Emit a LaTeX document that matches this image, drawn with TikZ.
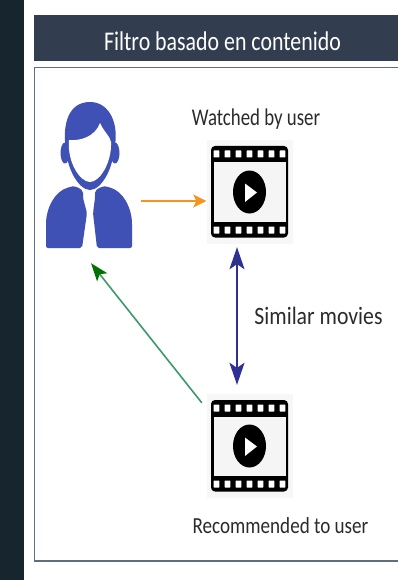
\documentclass[tikz,border=0pt]{standalone}
\usepackage{fontspec}
\setmainfont{Carlito}
\usetikzlibrary{arrows.meta}
\definecolor{sidebar}{HTML}{17252F}
\definecolor{headbg}{HTML}{323E4F}
\definecolor{framec}{HTML}{5F6F7F}
\definecolor{personc}{HTML}{3F51B5}
\definecolor{orangec}{HTML}{F7941D}
\definecolor{bluec}{HTML}{2E3192}
\definecolor{greenc}{HTML}{3C9A6A}
\definecolor{textc}{HTML}{2B2B2B}
\tikzset{
 film/.style={minimum width=86pt,minimum height=104pt,inner sep=0pt,fill=black!3},
 lbl/.style={text=textc,inner sep=0pt},
}
\newcommand{\filmicon}[2]{%
 \begin{scope}[shift={(#1,#2)}]
  \fill[black,rounded corners=4pt] (-38.5,-46) rectangle (38.5,45.5);
  \fill[black!4] (-36,-29.5) rectangle (36,29.5);
  \foreach \i in {-3,...,3}{
   \fill[white,rounded corners=.6pt] ({\i*11-2.9},-41.5) rectangle ({\i*11+2.9},-34.5);
   \fill[white,rounded corners=.6pt] ({\i*11-2.9},34.5) rectangle ({\i*11+2.9},41.5);
  }
  \fill[black] (0,0) ellipse (16.5pt and 21.5pt);
  \fill[white] (-4.5,-8.5) -- (7.5,0.5) -- (-4.5,10) -- cycle;
 \end{scope}}
\begin{document}
\begin{tikzpicture}[x=1pt,y=-1pt]
\useasboundingbox (0,0) rectangle (398,580);
\fill[white] (0,0) rectangle (398,580);
\fill[sidebar] (0,0) rectangle (24,580);
\fill[headbg] (34,15) rectangle (398,61);
\draw[framec,line width=1.3pt] (398,67.5) -- (34.5,67.5) -- (34.5,561) -- (398,561);
\node[text=white,inner sep=0pt,font=\fontsize{27}{31}\selectfont,xscale=.81] (title) at (222.5,41) {Filtro basado en contenido};
% person
\node[inner sep=0pt,minimum width=86pt,minimum height=146pt] (user) at (89,175) {};
\fill[personc] (65,153) ellipse (4.5pt and 10.5pt);
\fill[personc] (115,153) ellipse (4.5pt and 10.5pt);
\fill[personc] (66,150) .. controls (62,125) and (68,102) .. (90,102)
 .. controls (110,102) and (120,125) .. (114,150) -- cycle;
\fill[personc] (66,140) .. controls (64,165) and (78,190) .. (90,190) .. controls (102,190) and (116,165) .. (114,140) -- cycle;
\fill[white] (69,140) .. controls (80,141) and (95,137) .. (100,123)
 .. controls (104,132) and (110,136) .. (111,142)
 .. controls (112,162) and (100,182) .. (90,182) .. controls (80,182) and (67,162) .. (69,140) -- cycle;
\fill[personc,rounded corners=2pt] (83,191) .. controls (78,187) and (74,186) .. (70,187) .. controls (55,191) and (46,208) .. (46,226)
 -- (46,248) -- (82,248) -- (87,213) -- (83,198) -- cycle;
\fill[personc,rounded corners=2pt] (95,191) .. controls (100,187) and (104,186) .. (108,187) .. controls (123,191) and (132,208) .. (132,226)
 -- (132,248) -- (97,248) -- (93,213) -- (95,198) -- cycle;
% films
\node[film] (filma) at (249.5,192) {};
\filmicon{249.5}{192}
\node[film] (filmb) at (249.5,446) {};
\filmicon{249.5}{446}
% labels
\node[lbl,font=\fontsize{24}{28}\selectfont,xscale=.785] (watched) at (256,119) {Watched by user};
\node[lbl,font=\fontsize{25}{29}\selectfont,xscale=.87] (similar) at (318.5,316) {Similar movies};
\node[lbl,font=\fontsize{23}{27}\selectfont,xscale=.83] (recomm) at (280.5,526) {Recommended to user};
% connectors
\draw[orangec,line width=2pt,-{Stealth[length=13pt,width=13pt,inset=3pt]}] ([xshift=9pt,yshift=-26pt]user.east) -- ([yshift=-9pt]filma.west);
\draw[bluec,line width=2pt,{Stealth[length=22pt,width=15pt,inset=5pt]}-{Stealth[length=22pt,width=15pt,inset=5pt]}] ([xshift=-12.5pt,yshift=-3pt]filma.south) -- ([xshift=-12.5pt,yshift=9pt]filmb.north);
\draw[greenc,line width=1.6pt,-{Stealth[length=18pt,width=13pt,inset=4pt,color=green!45!black]}] ([xshift=-4.5pt,yshift=-9pt]filmb.north west) -- ([xshift=2pt,yshift=-15pt]user.south);
\end{tikzpicture}
\end{document}
